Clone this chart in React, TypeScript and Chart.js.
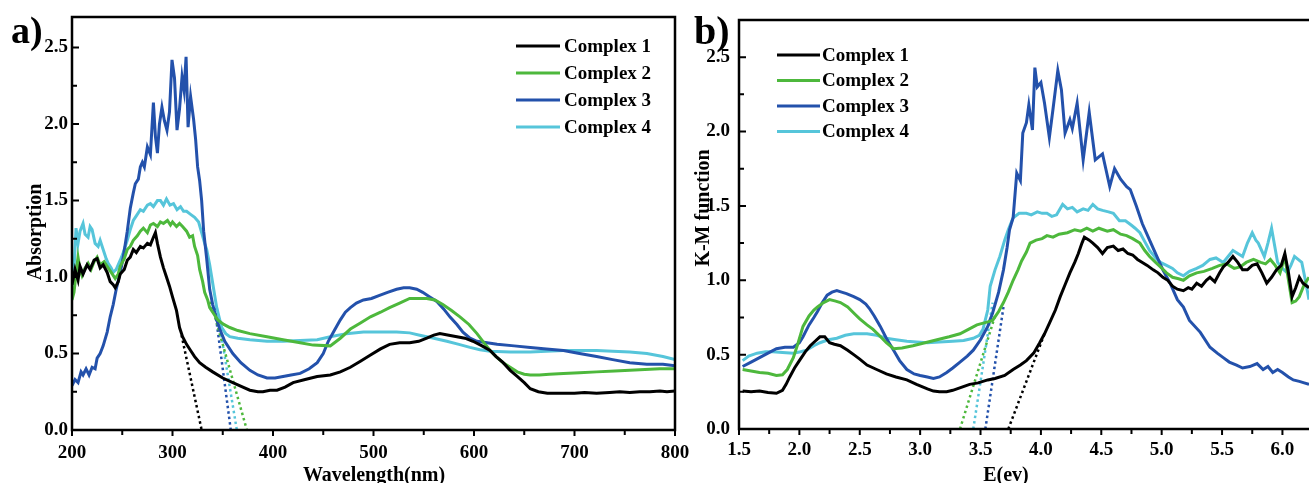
import React, { useEffect, useRef } from "react";
import { Chart, registerables } from "chart.js";

Chart.register(...registerables);

const FONT = "'Liberation Serif', 'Times New Roman', serif";

const SERIES_NAMES = ["Complex 1", "Complex 2", "Complex 3", "Complex 4"];
const SERIES_COLORS = ["#000000", "#4DB83C", "#2351AB", "#56C5DA"];

// ---------------- Panel a: Absorption vs wavelength ----------------
const A_X_TICKS = [200, 300, 400, 500, 600, 700, 800];
const A_Y_TICKS = [0, 0.5, 1.0, 1.5, 2.0, 2.5];

const A_C1_X = [200, 203, 206, 208, 211, 215, 218, 222, 225, 228, 231, 235, 238, 241, 243, 246, 248, 252, 255, 258, 261, 264, 268, 271, 275, 278, 281, 283, 285, 288, 291, 294, 297, 300, 304, 307, 310, 314, 318, 322, 327, 333, 340, 350, 360, 370, 377, 385, 390, 397, 404, 412, 420, 432, 444, 457, 467, 477, 487, 497, 507, 516, 526, 536, 545, 553, 560, 566, 575, 583, 591, 599, 608, 616, 622, 629, 636, 643, 650, 656, 664, 673, 681, 689, 700, 710, 722, 735, 745, 755, 765, 775, 785, 792, 800];
const A_C1_Y = [0.95, 1.05, 0.98, 1.07, 1.02, 1.08, 1.05, 1.11, 1.12, 1.06, 1.08, 1.03, 0.97, 0.95, 0.93, 0.97, 1.02, 1.05, 1.11, 1.13, 1.18, 1.16, 1.20, 1.19, 1.22, 1.21, 1.26, 1.29, 1.22, 1.13, 1.06, 1.0, 0.94, 0.87, 0.78, 0.67, 0.61, 0.56, 0.52, 0.48, 0.44, 0.41, 0.38, 0.34, 0.31, 0.28, 0.26, 0.25, 0.25, 0.26, 0.26, 0.28, 0.31, 0.33, 0.35, 0.36, 0.38, 0.41, 0.45, 0.49, 0.53, 0.56, 0.57, 0.57, 0.58, 0.60, 0.62, 0.63, 0.62, 0.61, 0.60, 0.58, 0.55, 0.52, 0.48, 0.44, 0.39, 0.35, 0.31, 0.27, 0.25, 0.24, 0.24, 0.24, 0.24, 0.245, 0.24, 0.245, 0.25, 0.245, 0.25, 0.25, 0.255, 0.25, 0.255];

const A_C2_X = [200, 202, 204, 206, 208, 210, 213, 216, 219, 222, 225, 228, 232, 235, 239, 243, 246, 248, 252, 255, 258, 261, 265, 268, 271, 275, 278, 281, 285, 288, 291, 295, 298, 300, 304, 307, 310, 314, 317, 320, 322, 325, 327, 330, 332, 335, 337, 341, 345, 351, 357, 365, 377, 394, 410, 427, 440, 457, 467, 477, 487, 497, 507, 516, 526, 536, 545, 553, 561, 569, 578, 586, 595, 603, 610, 616, 622, 629, 636, 643, 650, 656, 665, 675, 689, 705, 722, 740, 755, 770, 785, 800];
const A_C2_Y = [0.85, 0.90, 1.02, 1.13, 1.05, 1.01, 1.06, 1.09, 1.05, 1.10, 1.13, 1.08, 1.10, 1.07, 1.03, 0.99, 1.02, 1.07, 1.12, 1.18, 1.20, 1.24, 1.27, 1.30, 1.32, 1.29, 1.34, 1.35, 1.33, 1.36, 1.35, 1.37, 1.34, 1.36, 1.33, 1.35, 1.33, 1.30, 1.26, 1.27, 1.20, 1.14, 1.05, 0.97, 0.90, 0.85, 0.80, 0.76, 0.72, 0.69, 0.67, 0.65, 0.63, 0.61, 0.59, 0.57, 0.555, 0.55, 0.60, 0.66, 0.70, 0.74, 0.77, 0.80, 0.83, 0.86, 0.86, 0.86, 0.85, 0.82, 0.78, 0.74, 0.69, 0.63, 0.57, 0.52, 0.48, 0.44, 0.41, 0.38, 0.365, 0.36, 0.36, 0.365, 0.37, 0.375, 0.38, 0.385, 0.39, 0.395, 0.40, 0.40];

const A_C3_X = [200, 203, 206, 209, 211, 214, 217, 220, 223, 225, 228, 231, 235, 238, 241, 244, 248, 251, 255, 258, 261, 263, 266, 268, 270, 272, 275, 278, 281, 283, 285, 287, 289.5, 292, 294.5, 297, 299.5, 302, 304.5, 307, 309.5, 311.5, 313.5, 315.5, 318, 321, 323, 325, 327, 329, 331, 334, 337, 340, 344, 347, 352, 360, 368, 377, 385, 394, 402, 410, 418, 427, 436, 444, 450, 455, 461, 467, 472, 477, 483, 490, 498, 506, 514, 523, 530, 536, 543, 549, 556, 563, 570, 576, 583, 589, 596, 603, 613, 623, 640, 656, 672, 689, 705, 722, 738, 755, 772, 788, 800];
const A_C3_Y = [0.29, 0.33, 0.31, 0.38, 0.36, 0.40, 0.36, 0.41, 0.40, 0.47, 0.50, 0.55, 0.64, 0.74, 0.82, 0.92, 1.03, 1.13, 1.30, 1.45, 1.55, 1.61, 1.64, 1.72, 1.75, 1.72, 1.85, 1.80, 2.14, 1.92, 1.81, 2.00, 2.11, 2.02, 1.96, 2.08, 2.42, 2.30, 1.96, 2.10, 2.31, 2.22, 2.44, 1.98, 2.18, 2.03, 1.90, 1.72, 1.63, 1.50, 1.30, 1.12, 0.92, 0.82, 0.72, 0.66, 0.58, 0.50, 0.44, 0.39, 0.36, 0.34, 0.34, 0.35, 0.36, 0.37, 0.40, 0.44, 0.50, 0.58, 0.65, 0.72, 0.77, 0.80, 0.83, 0.85, 0.86, 0.88, 0.90, 0.92, 0.93, 0.93, 0.92, 0.90, 0.87, 0.84, 0.79, 0.74, 0.69, 0.64, 0.60, 0.58, 0.57, 0.56, 0.55, 0.54, 0.53, 0.52, 0.50, 0.48, 0.46, 0.44, 0.43, 0.43, 0.42];

const A_C4_X = [200, 202, 204, 206, 208, 211, 213, 216, 218, 220, 223, 226, 228, 231, 234, 236, 239, 241, 244, 248, 251, 255, 258, 261, 264, 268, 271, 275, 278, 281, 285, 288, 291, 294, 297.5, 301, 304.5, 308, 311, 314, 318, 322, 326, 329, 332, 334, 337, 339, 342, 344, 347, 349, 353, 357, 365, 377, 394, 410, 427, 444, 457, 473, 490, 506, 523, 536, 546, 560, 573, 585, 596, 606, 616, 636, 656, 672, 689, 705, 722, 738, 755, 772, 788, 800];
const A_C4_Y = [0.87, 1.05, 1.32, 1.22, 1.30, 1.35, 1.28, 1.26, 1.33, 1.31, 1.22, 1.20, 1.24, 1.18, 1.12, 1.09, 1.06, 1.03, 1.05, 1.11, 1.16, 1.24, 1.31, 1.37, 1.40, 1.44, 1.43, 1.47, 1.48, 1.46, 1.50, 1.50, 1.47, 1.51, 1.47, 1.48, 1.44, 1.46, 1.43, 1.43, 1.41, 1.39, 1.36, 1.29, 1.22, 1.18, 1.08, 1.00, 0.88, 0.80, 0.72, 0.67, 0.63, 0.61, 0.60, 0.59, 0.58, 0.58, 0.585, 0.59, 0.61, 0.63, 0.64, 0.64, 0.64, 0.635, 0.62, 0.60, 0.58, 0.56, 0.54, 0.525, 0.515, 0.51, 0.51, 0.515, 0.52, 0.52, 0.52, 0.515, 0.51, 0.50, 0.48, 0.46];

// band-gap extrapolation lines (panel a), one per complex
const A_FIT_X = [[309, 329], [338, 374], [342, 358], [344, 364]];
const A_FIT_Y = [[0.62, 0], [0.84, 0], [0.80, 0], [0.80, 0]];

// ---------------- Panel b: K-M function vs E(ev) ----------------
const B_X_TICKS = [1.5, 2.0, 2.5, 3.0, 3.5, 4.0, 4.5, 5.0, 5.5, 6.0];
const B_Y_TICKS = [0, 0.5, 1.0, 1.5, 2.0, 2.5];

const B_C1_X = [1.53, 1.60, 1.67, 1.74, 1.81, 1.86, 1.89, 1.92, 1.96, 2.0, 2.05, 2.09, 2.13, 2.17, 2.21, 2.25, 2.29, 2.34, 2.40, 2.45, 2.50, 2.56, 2.64, 2.72, 2.80, 2.89, 2.97, 3.06, 3.11, 3.16, 3.22, 3.27, 3.34, 3.41, 3.48, 3.56, 3.62, 3.70, 3.77, 3.83, 3.88, 3.94, 3.99, 4.03, 4.07, 4.12, 4.16, 4.20, 4.24, 4.28, 4.31, 4.34, 4.36, 4.40, 4.43, 4.47, 4.51, 4.55, 4.60, 4.64, 4.68, 4.72, 4.76, 4.80, 4.84, 4.88, 4.93, 4.97, 5.01, 5.05, 5.09, 5.13, 5.18, 5.22, 5.25, 5.29, 5.33, 5.37, 5.40, 5.44, 5.48, 5.51, 5.55, 5.59, 5.63, 5.67, 5.71, 5.75, 5.79, 5.83, 5.87, 5.91, 5.95, 5.99, 6.02, 6.05, 6.08, 6.11, 6.14, 6.17, 6.22];
const B_C1_Y = [0.255, 0.25, 0.255, 0.245, 0.24, 0.26, 0.30, 0.35, 0.41, 0.46, 0.52, 0.56, 0.59, 0.62, 0.62, 0.58, 0.57, 0.56, 0.53, 0.50, 0.47, 0.43, 0.40, 0.37, 0.35, 0.33, 0.30, 0.27, 0.255, 0.25, 0.25, 0.26, 0.28, 0.30, 0.31, 0.33, 0.34, 0.36, 0.40, 0.43, 0.46, 0.51, 0.58, 0.64, 0.71, 0.80, 0.89, 0.97, 1.05, 1.12, 1.18, 1.25, 1.29, 1.27, 1.25, 1.22, 1.18, 1.22, 1.23, 1.20, 1.21, 1.18, 1.17, 1.14, 1.12, 1.10, 1.07, 1.05, 1.02, 1.0, 0.96, 0.94, 0.93, 0.95, 0.94, 0.98, 0.96, 1.00, 1.02, 0.99, 1.05, 1.09, 1.12, 1.16, 1.12, 1.07, 1.07, 1.10, 1.11, 1.05, 0.98, 1.02, 1.07, 1.10, 1.18, 1.05, 0.89, 0.95, 1.02, 0.98, 0.95];

const B_C2_X = [1.53, 1.60, 1.67, 1.74, 1.81, 1.86, 1.90, 1.95, 1.99, 2.03, 2.08, 2.12, 2.15, 2.20, 2.25, 2.30, 2.34, 2.40, 2.45, 2.50, 2.56, 2.61, 2.66, 2.72, 2.78, 2.85, 2.94, 3.04, 3.14, 3.24, 3.33, 3.40, 3.47, 3.56, 3.60, 3.65, 3.69, 3.73, 3.77, 3.81, 3.84, 3.88, 3.91, 3.96, 4.01, 4.05, 4.10, 4.15, 4.22, 4.28, 4.33, 4.38, 4.43, 4.48, 4.55, 4.60, 4.66, 4.71, 4.76, 4.82, 4.86, 4.90, 4.95, 4.99, 5.04, 5.09, 5.14, 5.18, 5.23, 5.29, 5.35, 5.42, 5.48, 5.54, 5.60, 5.65, 5.70, 5.76, 5.82, 5.86, 5.90, 5.94, 5.98, 6.02, 6.05, 6.08, 6.11, 6.14, 6.18, 6.22];
const B_C2_Y = [0.40, 0.39, 0.38, 0.375, 0.36, 0.365, 0.40, 0.48, 0.58, 0.69, 0.76, 0.80, 0.82, 0.85, 0.87, 0.86, 0.85, 0.82, 0.78, 0.74, 0.70, 0.67, 0.63, 0.58, 0.54, 0.545, 0.56, 0.58, 0.60, 0.62, 0.64, 0.67, 0.70, 0.72, 0.73, 0.79, 0.85, 0.92, 1.0, 1.07, 1.13, 1.19, 1.25, 1.27, 1.28, 1.30, 1.29, 1.31, 1.32, 1.34, 1.33, 1.35, 1.33, 1.35, 1.33, 1.34, 1.31, 1.30, 1.28, 1.25, 1.20, 1.16, 1.12, 1.09, 1.05, 1.02, 1.01, 1.00, 1.03, 1.05, 1.06, 1.08, 1.10, 1.11, 1.08, 1.09, 1.12, 1.14, 1.12, 1.11, 1.14, 1.10, 1.05, 1.16, 1.00, 0.85, 0.86, 0.89, 0.97, 1.02];

const B_C3_X = [1.53, 1.60, 1.67, 1.74, 1.81, 1.88, 1.95, 2.00, 2.03, 2.08, 2.12, 2.15, 2.19, 2.23, 2.27, 2.31, 2.35, 2.39, 2.45, 2.50, 2.55, 2.58, 2.62, 2.67, 2.72, 2.78, 2.83, 2.89, 2.95, 3.00, 3.06, 3.11, 3.16, 3.22, 3.27, 3.33, 3.39, 3.44, 3.50, 3.56, 3.60, 3.65, 3.69, 3.72, 3.74, 3.77, 3.80, 3.83, 3.85, 3.88, 3.90, 3.93, 3.95, 3.97, 4.00, 4.03, 4.07, 4.10, 4.12, 4.14, 4.17, 4.20, 4.24, 4.26, 4.30, 4.35, 4.40, 4.45, 4.51, 4.57, 4.61, 4.66, 4.71, 4.74, 4.79, 4.84, 4.90, 4.96, 5.01, 5.07, 5.13, 5.18, 5.23, 5.32, 5.40, 5.46, 5.51, 5.56, 5.62, 5.67, 5.73, 5.79, 5.84, 5.88, 5.92, 5.96, 6.00, 6.05, 6.09, 6.14, 6.18, 6.22];
const B_C3_Y = [0.42, 0.45, 0.48, 0.51, 0.54, 0.55, 0.55, 0.58, 0.62, 0.70, 0.75, 0.79, 0.85, 0.90, 0.92, 0.93, 0.92, 0.91, 0.89, 0.87, 0.84, 0.81, 0.76, 0.69, 0.61, 0.53, 0.46, 0.40, 0.37, 0.36, 0.35, 0.34, 0.35, 0.38, 0.41, 0.45, 0.49, 0.53, 0.60, 0.69, 0.78, 0.92, 1.07, 1.22, 1.34, 1.42, 1.72, 1.67, 1.99, 2.06, 2.18, 2.01, 2.43, 2.30, 2.33, 2.19, 1.96, 2.15, 2.28, 2.41, 2.28, 1.99, 2.08, 2.02, 2.19, 1.81, 2.13, 1.81, 1.85, 1.63, 1.75, 1.68, 1.63, 1.61, 1.50, 1.38, 1.27, 1.16, 1.07, 0.98, 0.87, 0.82, 0.73, 0.65, 0.55, 0.51, 0.48, 0.45, 0.43, 0.41, 0.42, 0.44, 0.40, 0.42, 0.38, 0.40, 0.38, 0.35, 0.33, 0.32, 0.31, 0.30];

const B_C4_X = [1.53, 1.58, 1.65, 1.72, 1.78, 1.86, 1.95, 2.01, 2.06, 2.12, 2.17, 2.24, 2.31, 2.38, 2.45, 2.56, 2.64, 2.72, 2.80, 2.89, 2.97, 3.06, 3.16, 3.27, 3.36, 3.44, 3.49, 3.52, 3.56, 3.58, 3.62, 3.66, 3.70, 3.73, 3.77, 3.82, 3.88, 3.92, 3.97, 4.01, 4.05, 4.09, 4.13, 4.18, 4.22, 4.26, 4.30, 4.35, 4.39, 4.43, 4.47, 4.51, 4.56, 4.60, 4.65, 4.70, 4.75, 4.78, 4.82, 4.86, 4.90, 4.95, 4.99, 5.04, 5.09, 5.13, 5.18, 5.23, 5.29, 5.34, 5.40, 5.45, 5.51, 5.55, 5.59, 5.63, 5.67, 5.71, 5.75, 5.78, 5.80, 5.85, 5.88, 5.91, 5.96, 6.00, 6.04, 6.07, 6.10, 6.13, 6.16, 6.19, 6.22];
const B_C4_Y = [0.46, 0.49, 0.51, 0.52, 0.52, 0.515, 0.51, 0.52, 0.53, 0.56, 0.58, 0.60, 0.61, 0.63, 0.64, 0.64, 0.63, 0.61, 0.60, 0.59, 0.585, 0.58, 0.585, 0.59, 0.595, 0.61, 0.63, 0.67, 0.80, 0.96, 1.07, 1.16, 1.27, 1.34, 1.42, 1.45, 1.45, 1.44, 1.46, 1.45, 1.45, 1.43, 1.44, 1.51, 1.48, 1.49, 1.46, 1.48, 1.47, 1.51, 1.48, 1.47, 1.46, 1.45, 1.40, 1.40, 1.37, 1.35, 1.32, 1.26, 1.20, 1.15, 1.12, 1.10, 1.08, 1.05, 1.03, 1.06, 1.08, 1.10, 1.14, 1.15, 1.12, 1.16, 1.20, 1.18, 1.16, 1.25, 1.32, 1.27, 1.25, 1.16, 1.25, 1.35, 1.12, 1.08, 1.05, 1.10, 1.16, 1.14, 1.12, 1.00, 0.87];

// band-gap extrapolation lines (panel b), one per complex
const B_FIT_X = [[3.73, 4.03], [3.33, 3.62], [3.54, 3.69], [3.44, 3.60]];
const B_FIT_Y = [[0, 0.64], [0, 0.76], [0, 0.82], [0, 0.85]];

type Cfg = {
  xMin: number; xMax: number; yMin: number; yMax: number;
  xTicks: number[]; yTicks: number[]; xDecimals: number;
  xs: number[][]; ys: number[][]; fitX: number[][]; fitY: number[][];
  padTop: number; padRight: number; yAxisWidth: number; xAxisHeight: number;
  yLabelPad: number; xLabelPad: number;
  rightFrame: boolean;
  legend: { x0: number; x1: number; tx: number; y0: number; dy: number };
  xTitle: { text: string; x: number; y: number };
  yTitle: { text: string; x: number; y: number };
  panel: { text: string; x: number; y: number; size: number };
};

function decorPlugin(cfg: Cfg) {
  return {
    id: "decor",
    afterDraw(chart: any) {
      const ctx: CanvasRenderingContext2D = chart.ctx;
      const { left, right, top, bottom } = chart.chartArea;
      const xs = chart.scales.x;
      const ys = chart.scales.y;
      ctx.save();
      ctx.strokeStyle = "#000";
      ctx.lineWidth = 2.5;
      ctx.lineCap = "square";
      // frame
      ctx.beginPath();
      if (cfg.rightFrame) {
        ctx.rect(left, top, right - left, bottom - top);
      } else {
        ctx.moveTo(chart.width + 2, top);
        ctx.lineTo(left, top);
        ctx.lineTo(left, bottom);
        ctx.lineTo(chart.width + 2, bottom);
      }
      ctx.stroke();
      // ticks
      ctx.lineWidth = 2;
      ctx.lineCap = "butt";
      ctx.beginPath();
      const xStep = cfg.xTicks[1] - cfg.xTicks[0];
      for (const v of cfg.xTicks) {
        for (const [val, len] of [[v, 6], [v + xStep / 2, 5]] as [number, number][]) {
          if (val < cfg.xMin - 1e-9 || val > cfg.xMax + 1e-9) continue;
          const px = xs.getPixelForValue(val);
          ctx.moveTo(px, bottom);
          ctx.lineTo(px, bottom + len);
        }
      }
      const yStep = cfg.yTicks[1] - cfg.yTicks[0];
      for (const v of cfg.yTicks) {
        for (const [val, len] of [[v, 7], [v + yStep / 2, 5]] as [number, number][]) {
          if (val <= cfg.yMin + 1e-9 || val > cfg.yMax + 1e-9) continue;
          const py = ys.getPixelForValue(val);
          ctx.moveTo(left, py);
          ctx.lineTo(left + len, py);
        }
      }
      ctx.stroke();
      // legend
      const lg = cfg.legend;
      ctx.font = `bold 19px ${FONT}`;
      ctx.textBaseline = "middle";
      ctx.textAlign = "left";
      SERIES_NAMES.forEach((name, i) => {
        const y = lg.y0 + i * lg.dy;
        ctx.strokeStyle = SERIES_COLORS[i];
        ctx.lineWidth = 3;
        ctx.beginPath();
        ctx.moveTo(lg.x0, y);
        ctx.lineTo(lg.x1, y);
        ctx.stroke();
        ctx.fillStyle = "#000";
        ctx.fillText(name, lg.tx, y + 1);
      });
      // axis titles
      ctx.fillStyle = "#000";
      ctx.font = `bold 20px ${FONT}`;
      ctx.textAlign = "center";
      ctx.textBaseline = "alphabetic";
      ctx.fillText(cfg.xTitle.text, cfg.xTitle.x, cfg.xTitle.y);
      ctx.save();
      ctx.translate(cfg.yTitle.x, cfg.yTitle.y);
      ctx.rotate(-Math.PI / 2);
      ctx.textBaseline = "middle";
      ctx.fillText(cfg.yTitle.text, 0, 0);
      ctx.restore();
      // panel label
      ctx.font = `bold ${cfg.panel.size}px ${FONT}`;
      ctx.textAlign = "left";
      ctx.textBaseline = "alphabetic";
      ctx.fillText(cfg.panel.text, cfg.panel.x, cfg.panel.y);
      ctx.restore();
    },
  };
}

function buildChart(canvas: HTMLCanvasElement, cfg: Cfg) {
  const datasets: any[] = [];
  SERIES_NAMES.forEach((name, i) => {
    datasets.push({
      label: name,
      data: cfg.xs[i].map((x, k) => ({ x, y: cfg.ys[i][k] })),
      borderColor: SERIES_COLORS[i],
      backgroundColor: SERIES_COLORS[i],
      borderWidth: 3,
      pointRadius: 0,
      tension: 0,
      fill: false,
    });
  });
  SERIES_NAMES.forEach((name, i) => {
    datasets.push({
      label: name + " fit",
      data: cfg.fitX[i].map((x, k) => ({ x, y: cfg.fitY[i][k] })),
      borderColor: SERIES_COLORS[i],
      borderWidth: 2.5,
      borderDash: [2.5, 3],
      pointRadius: 0,
      fill: false,
    });
  });
  const tickFont = { family: FONT, size: 19, weight: "bold" as const };
  return new Chart(canvas, {
    type: "line",
    data: { datasets },
    options: {
      responsive: false,
      animation: false,
      devicePixelRatio: 1,
      layout: { padding: { top: cfg.padTop, right: cfg.padRight, left: 0, bottom: 0 } },
      plugins: { legend: { display: false }, tooltip: { enabled: false } },
      scales: {
        x: {
          type: "linear",
          min: cfg.xMin,
          max: cfg.xMax,
          grid: { display: false, drawTicks: false },
          border: { display: false },
          afterBuildTicks: (s: any) => {
            s.ticks = cfg.xTicks.map((v) => ({ value: v }));
          },
          afterFit: (s: any) => {
            s.height = cfg.xAxisHeight;
            s.paddingLeft = 0;
            s.paddingRight = 0;
          },
          ticks: {
            color: "#000",
            font: tickFont,
            padding: cfg.xLabelPad,
            maxRotation: 0,
            autoSkip: false,
            callback: (v: any) => Number(v).toFixed(cfg.xDecimals),
          },
        },
        y: {
          type: "linear",
          min: cfg.yMin,
          max: cfg.yMax,
          grid: { display: false, drawTicks: false },
          border: { display: false },
          afterBuildTicks: (s: any) => {
            s.ticks = cfg.yTicks.map((v) => ({ value: v }));
          },
          afterFit: (s: any) => {
            s.width = cfg.yAxisWidth;
            s.paddingTop = 0;
            s.paddingBottom = 0;
          },
          ticks: {
            color: "#000",
            font: tickFont,
            padding: cfg.yLabelPad,
            autoSkip: false,
            callback: (v: any) => Number(v).toFixed(1),
          },
        },
      },
    } as any,
    plugins: [decorPlugin(cfg)],
  });
}

const CFG_A: Cfg = {
  xMin: 200, xMax: 800, yMin: 0, yMax: 2.7,
  xTicks: A_X_TICKS, yTicks: A_Y_TICKS, xDecimals: 0,
  xs: [A_C1_X, A_C2_X, A_C3_X, A_C4_X],
  ys: [A_C1_Y, A_C2_Y, A_C3_Y, A_C4_Y],
  fitX: A_FIT_X, fitY: A_FIT_Y,
  padTop: 17, padRight: 15, yAxisWidth: 72, xAxisHeight: 53,
  yLabelPad: 4, xLabelPad: 12,
  rightFrame: true,
  legend: { x0: 516, x1: 560, tx: 564, y0: 46, dy: 27 },
  xTitle: { text: "Wavelength(nm)", x: 374, y: 481 },
  yTitle: { text: "Absorption", x: 36, y: 232 },
  panel: { text: "a)", x: 11, y: 43, size: 38 },
};

const CFG_B: Cfg = {
  xMin: 1.5, xMax: 6.22, yMin: 0, yMax: 2.75,
  xTicks: B_X_TICKS, yTicks: B_Y_TICKS, xDecimals: 1,
  xs: [B_C1_X, B_C2_X, B_C3_X, B_C4_X],
  ys: [B_C1_Y, B_C2_Y, B_C3_Y, B_C4_Y],
  fitX: B_FIT_X, fitY: B_FIT_Y,
  padTop: 20, padRight: 0, yAxisWidth: 49, xAxisHeight: 54,
  yLabelPad: 9, xLabelPad: 10,
  rightFrame: false,
  legend: { x0: 87, x1: 130, tx: 132, y0: 55, dy: 25.5 },
  xTitle: { text: "E(ev)", x: 316, y: 481 },
  yTitle: { text: "K-M function", x: 14, y: 208 },
  panel: { text: "b)", x: 4, y: 44, size: 40 },
};

export default function App() {
  const refA = useRef<HTMLCanvasElement>(null);
  const refB = useRef<HTMLCanvasElement>(null);
  useEffect(() => {
    const a = buildChart(refA.current!, CFG_A);
    const b = buildChart(refB.current!, CFG_B);
    return () => {
      a.destroy();
      b.destroy();
    };
  }, []);
  return (
    <div style={{ position: "absolute", left: 0, top: 0, width: 1309, height: 483, background: "#fff", overflow: "hidden" }}>
      <canvas ref={refA} width={690} height={483} style={{ position: "absolute", left: 0, top: 0, width: 690, height: 483 }} />
      <canvas ref={refB} width={619} height={483} style={{ position: "absolute", left: 690, top: 0, width: 619, height: 483 }} />
    </div>
  );
}
